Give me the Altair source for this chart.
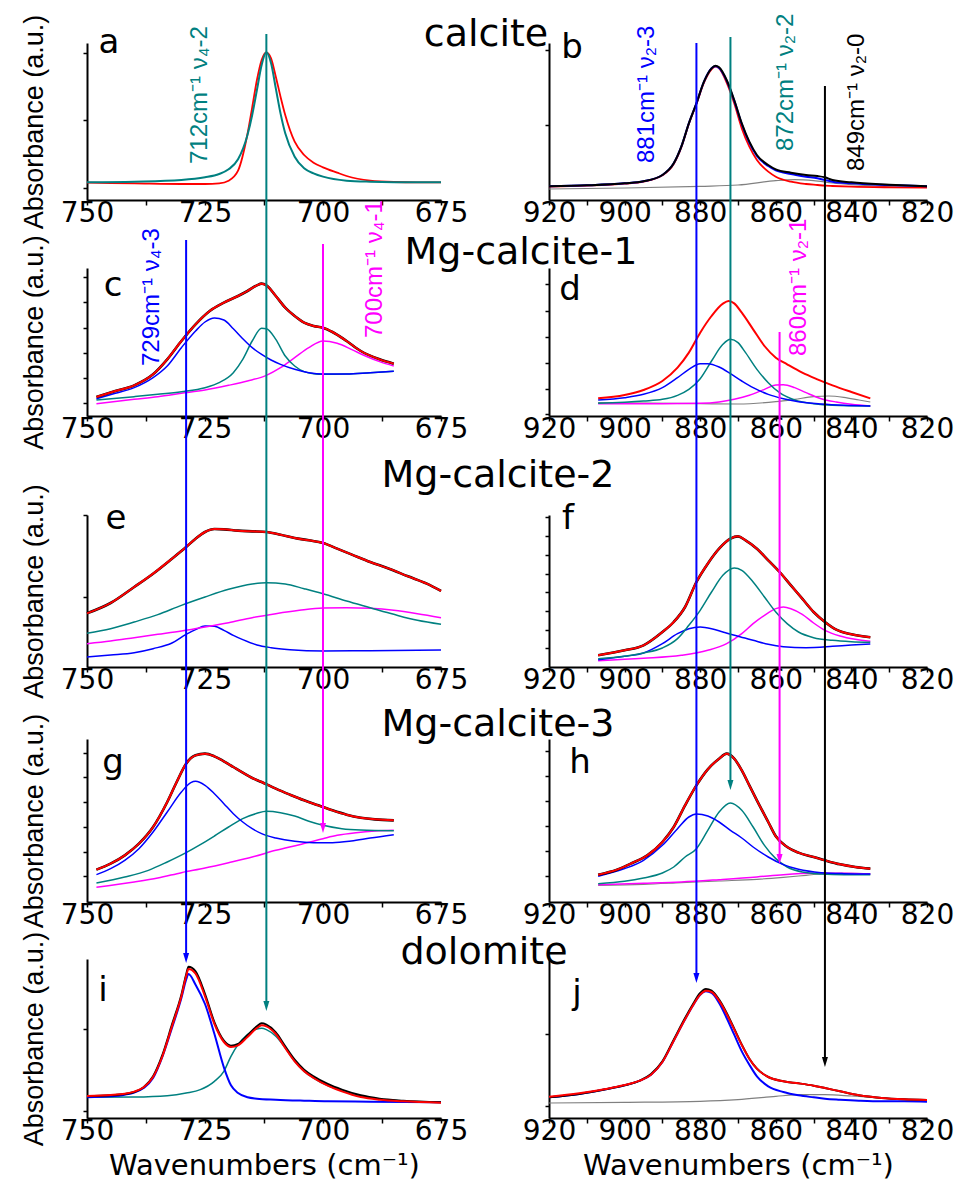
import altair as alt
import pandas as pd

# ---------------- data (wavenumber, absorbance a.u.) ----------------
# panel a (calcite, nu4)
a_teal_w = [750, 740, 730, 725, 722, 720, 718, 716, 715, 714, 713, 712, 711, 710, 709, 708, 706, 704, 702, 700, 695, 690, 680, 675]
a_teal_v = [53, 55, 60, 68, 78, 92, 122, 195, 255, 330, 405, 443, 410, 335, 260, 200, 130, 95, 80, 70, 58, 55, 53, 53]
a_red_w = [750, 740, 730, 725, 722, 720, 718, 716, 715, 714, 713, 712, 711, 710, 709, 708, 706, 704, 702, 700, 697, 695, 690, 685, 680, 675]
a_red_v = [52, 50, 48, 48, 50, 58, 88, 198, 278, 360, 420, 443, 425, 370, 310, 255, 175, 135, 112, 98, 82, 72, 58, 54, 53, 53]

# panel b (calcite, nu2)
b_w = [920, 910, 900, 895, 890, 887, 885, 883, 881, 879, 877, 876, 875, 873, 871, 869, 867, 865, 862, 860, 856, 852, 849, 847, 845, 840, 830, 820]
b_black_v = [41, 44, 50, 56, 75, 110, 160, 230, 290, 355, 395, 403, 398, 360, 300, 230, 175, 135, 105, 92, 82, 75, 72, 68, 60, 53, 46, 41]
b_blue_v = [41, 44, 50, 56, 75, 110, 160, 230, 290, 355, 395, 401, 396, 358, 298, 228, 172, 132, 102, 89, 78, 70, 65, 60, 55, 50, 45, 41]
b_red_v = [40, 43, 49, 55, 74, 108, 158, 228, 288, 352, 392, 400, 395, 352, 290, 215, 160, 120, 85, 70, 55, 48, 45, 43, 42, 40, 38, 37]
b_gray_w = [920, 900, 880, 870, 860, 855, 850, 845, 840, 830, 820]
b_gray_v = [33, 36, 41, 45, 58, 61, 58, 51, 46, 40, 38]

# panel c (Mg-calcite-1, nu4)
c_red_w = [748, 744, 740, 736, 733, 730, 727, 724, 721, 718, 716, 714, 713, 712, 710, 708, 706, 704, 702, 700, 698, 695, 692, 688, 685]
c_red_v = [57, 75, 92, 125, 170, 225, 275, 315, 340, 360, 375, 392, 397, 392, 360, 325, 300, 280, 270, 265, 252, 225, 195, 170, 157]
c_blue_w = [748, 744, 740, 736, 733, 730, 727, 725, 723, 721, 719, 717, 715, 713, 711, 709, 706, 703, 700, 695, 690, 685]
c_blue_v = [52, 68, 85, 115, 150, 205, 255, 282, 294, 288, 262, 232, 205, 185, 168, 155, 140, 130, 126, 126, 130, 134]
c_teal_w = [748, 740, 735, 730, 725, 722, 719, 717, 715, 713, 712, 710, 708, 706, 704, 702, 700, 695, 690, 685]
c_teal_v = [48, 58, 65, 73, 85, 100, 130, 170, 225, 263, 262, 230, 180, 150, 133, 127, 125, 126, 130, 134]
c_mag_w = [748, 740, 735, 730, 725, 720, 716, 712, 709, 706, 703, 700, 697, 694, 691, 688, 685]
c_mag_v = [37, 50, 58, 68, 78, 92, 105, 122, 145, 175, 205, 225, 218, 200, 180, 163, 150]

# panel d (Mg-calcite-1, nu2)
d_red_w = [907, 900, 895, 890, 886, 883, 880, 877, 874, 872.5, 871, 869, 866, 863, 860, 857, 853, 849, 845, 840, 835]
d_red_v = [53, 63, 78, 105, 145, 190, 250, 300, 337, 345, 338, 310, 260, 210, 175, 155, 130, 110, 92, 72, 53]
d_blue_w = [907, 900, 895, 890, 886, 883, 880, 878, 875, 872, 869, 866, 862, 858, 854, 848, 842, 835]
d_blue_v = [48, 55, 65, 85, 115, 140, 157, 157, 147, 127, 105, 85, 65, 52, 43, 36, 32, 30]
d_teal_w = [907, 895, 890, 886, 883, 880, 877, 874, 872, 870, 868, 865, 862, 859, 855, 850, 845, 835]
d_teal_v = [38, 45, 50, 62, 80, 112, 165, 215, 230, 220, 190, 140, 100, 70, 48, 37, 32, 30]
d_mag_w = [907, 890, 880, 875, 871, 867, 863, 860, 858, 855, 852, 848, 844, 840, 835]
d_mag_v = [37, 37, 38, 42, 50, 62, 80, 93, 94, 85, 70, 52, 42, 35, 30]
d_gray_w = [907, 880, 870, 860, 855, 850, 846, 842, 838, 835]
d_gray_v = [40, 37, 36, 43, 50, 58, 60, 56, 48, 42]

# panel e (Mg-calcite-2, nu4)
e_red_w = [750, 745, 740, 736, 732, 729, 727, 725, 723, 721, 718, 715, 712, 709, 706, 703, 700, 697, 694, 690, 686, 682, 678, 675]
e_red_v = [161, 192, 240, 280, 325, 360, 385, 405, 414, 413, 409, 407, 405, 397, 387, 380, 372, 355, 338, 315, 295, 272, 250, 228]
e_teal_w = [750, 745, 740, 735, 730, 725, 720, 715, 712, 708, 704, 700, 695, 690, 685, 680, 675]
e_teal_v = [101, 115, 135, 157, 185, 210, 233, 249, 253, 249, 235, 220, 198, 178, 158, 140, 128]
e_mag_w = [750, 745, 740, 735, 730, 725, 720, 715, 710, 705, 700, 695, 690, 685, 680, 675]
e_mag_v = [70, 78, 88, 98, 108, 120, 133, 148, 160, 170, 177, 178, 176, 170, 160, 148]
e_blue_w = [750, 745, 740, 736, 732, 729, 727, 725, 723, 721, 719, 717, 714, 711, 707, 700, 690, 675]
e_blue_v = [30, 36, 43, 55, 72, 98, 112, 123, 122, 110, 95, 82, 66, 58, 52, 48, 49, 51]

# panel f (Mg-calcite-2, nu2)
f_red_w = [907, 900, 895, 890, 887, 884, 881, 878, 875, 872, 870, 868, 865, 862, 859, 856, 853, 850, 847, 844, 840, 835]
f_red_v = [35, 50, 65, 105, 135, 180, 255, 310, 355, 385, 392, 380, 355, 320, 285, 245, 205, 165, 135, 112, 98, 89]
f_teal_w = [907, 900, 895, 890, 886, 883, 880, 877, 874, 871, 869, 866, 863, 860, 857, 854, 850, 845, 840, 835]
f_teal_v = [25, 32, 42, 57, 85, 125, 170, 225, 275, 297, 290, 255, 210, 165, 130, 105, 88, 80, 76, 74]
f_blue_w = [907, 900, 895, 890, 886, 883, 880, 877, 874, 870, 866, 862, 858, 852, 845, 840, 835]
f_blue_v = [22, 32, 42, 70, 100, 115, 120, 115, 105, 92, 80, 68, 61, 58, 62, 66, 69]
f_mag_w = [907, 895, 885, 878, 873, 869, 866, 863, 860, 858, 856, 853, 850, 847, 843, 839, 835]
f_mag_v = [19, 26, 35, 50, 70, 100, 130, 155, 175, 180, 175, 158, 132, 110, 93, 83, 77]

# panel g (Mg-calcite-3, nu4)
g_red_w = [748, 745, 742, 739, 736, 733, 731, 729, 727, 725, 723, 721, 719, 717, 715, 713, 710, 707, 704, 701, 698, 695, 692, 689, 685]
g_red_v = [97, 115, 140, 175, 225, 300, 360, 415, 440, 445, 437, 422, 405, 388, 372, 360, 340, 322, 305, 290, 275, 262, 253, 248, 245]
g_blue_w = [748, 745, 742, 739, 736, 733, 730, 728, 727, 725, 723, 721, 719, 717, 715, 713, 710, 706, 702, 698, 694, 690, 685]
g_blue_v = [82, 100, 125, 160, 210, 270, 330, 358, 362, 350, 325, 295, 265, 240, 220, 205, 192, 182, 178, 178, 183, 192, 202]
g_teal_w = [748, 742, 737, 733, 729, 726, 723, 720, 717, 714, 712, 709, 706, 703, 700, 696, 692, 685]
g_teal_v = [57, 75, 95, 120, 148, 172, 198, 225, 250, 266, 272, 268, 258, 242, 230, 220, 216, 214]
g_mag_w = [748, 740, 735, 730, 725, 720, 715, 710, 705, 700, 697, 693, 689, 685]
g_mag_v = [44, 60, 72, 88, 102, 118, 135, 155, 172, 190, 200, 208, 213, 215]

# panel h (Mg-calcite-3, nu2)
h_red_w = [907, 902, 898, 894, 890, 887, 884, 881, 878, 875, 873, 871, 869, 867, 865, 862, 860, 857, 854, 850, 847, 843, 839, 835]
h_red_v = [82, 97, 117, 140, 180, 225, 290, 350, 398, 430, 445, 430, 395, 350, 305, 240, 197, 165, 148, 135, 125, 113, 105, 100]
h_blue_w = [907, 900, 895, 890, 886, 883, 881, 878, 875, 872, 869, 866, 862, 858, 854, 848, 842, 835]
h_blue_v = [77, 100, 125, 170, 220, 255, 264, 258, 240, 215, 192, 165, 135, 112, 98, 88, 85, 84]
h_teal_w = [907, 900, 895, 890, 887, 884, 881, 878, 875, 872, 869, 866, 863, 860, 857, 853, 848, 842, 835]
h_teal_v = [55, 62, 72, 87, 105, 135, 160, 215, 270, 297, 275, 225, 170, 130, 105, 90, 84, 82, 82]
h_mag_w = [907, 895, 885, 875, 865, 858, 850, 842, 835]
h_mag_v = [52, 56, 60, 67, 75, 82, 86, 86, 84]
h_gray_w = [907, 895, 885, 875, 865, 858, 852, 846, 840, 835]
h_gray_v = [50, 53, 58, 63, 68, 74, 80, 86, 86, 85]

# panel i (dolomite, nu4)
i_w = [750, 745, 742, 740, 738, 736, 734, 732, 730, 729, 728.5, 727, 725, 723, 721, 719.5, 718, 716, 714, 713, 712, 710, 708, 706, 704, 702, 699, 696, 692, 688, 683, 675]
i_black_v = [65, 68, 72, 78, 92, 125, 190, 280, 370, 430, 454, 440, 372, 287, 232, 217, 222, 248, 275, 284, 280, 257, 215, 175, 145, 125, 102, 85, 68, 58, 52, 47]
i_red_v = [66, 69, 73, 79, 92, 123, 186, 275, 365, 425, 447, 433, 365, 282, 228, 213, 218, 243, 270, 278, 275, 252, 210, 170, 140, 120, 97, 80, 63, 55, 50, 46]
i_blue_w = [750, 745, 742, 740, 738, 736, 734, 732, 730, 729, 728.5, 727, 725, 723, 721, 719.5, 718, 716, 714, 710, 704, 699, 690, 675]
i_blue_v = [62, 65, 70, 76, 90, 120, 185, 270, 360, 415, 432, 400, 342, 252, 152, 98, 75, 62, 58, 55, 52, 50, 49, 47]
i_teal_w = [750, 740, 733, 729, 726, 723, 721, 719.5, 718, 716, 714, 713, 712, 710, 708, 706, 704, 702, 699, 696, 692, 688, 683, 675]
i_teal_v = [62, 63, 67, 75, 85, 110, 140, 185, 220, 250, 267, 269, 265, 245, 210, 170, 140, 120, 97, 82, 66, 57, 51, 47]

# panel j (dolomite, nu2)
j_w = [920, 912, 905, 900, 896, 893, 890, 887, 884, 882, 880, 878.5, 877, 875, 873, 871, 869, 867, 865, 862, 858, 854, 850, 847, 843, 838, 832, 826, 820]
j_black_v = [62, 72, 86, 98, 112, 132, 170, 235, 300, 340, 375, 387, 382, 355, 315, 268, 220, 178, 148, 123, 110, 104, 97, 90, 80, 68, 60, 56, 54]
j_red_v = [64, 74, 87, 99, 112, 130, 168, 232, 296, 336, 370, 382, 378, 352, 312, 266, 219, 178, 148, 123, 110, 104, 97, 90, 80, 68, 60, 56, 54]
j_blue_v = [62, 72, 86, 98, 112, 130, 168, 232, 296, 336, 370, 380, 375, 345, 300, 250, 200, 160, 125, 95, 78, 68, 62, 58, 55, 52, 50, 50, 49]
j_gray_w = [920, 900, 880, 870, 860, 853, 847, 840, 830, 820]
j_gray_v = [45, 47, 50, 55, 65, 70, 70, 66, 58, 52]

# y tick positions (no labels)
yticks = {
    "a": [36, 240, 441], "b": [225, 450],
    "c": [39, 114, 190, 265, 342, 417], "d": [5, 80, 158, 237, 315, 395],
    "e": [210, 455], "f": [57, 112, 167, 224, 280, 337, 392, 449],
    "g": [77, 150, 225, 300, 374, 447], "h": [77, 152, 227, 302, 377, 452],
    "i": [22, 267], "j": [37, 252],
}
left_ticks = [675, 687.5, 700, 712.5, 725, 737.5, 750]
right_ticks = [820, 830, 840, 850, 860, 870, 880, 890, 900, 910, 920]

# ---------------- styling / layout ----------------
RED, BLACK, BLUE, TEAL, MAG, GRAY = "#ff0000", "#000000", "#0000ff", "#008080", "#ff00ff", "#808080"
LEFT_W, RIGHT_W = 354, 378
ROW_H = [157, 148, 152, 163, 159]
GAPS = [68, 99, 72, 57]
WIDE = "DejaVu Sans"
NARROW = "Liberation Sans Narrow, Arial Narrow, Liberation Sans, sans-serif"
ARROW = "M-0.6,-1L0.6,-1L0,1Z"
LETTER = 34
TITLE = 38


def xenc(side, bottom):
    if side == "L":
        scale = alt.Scale(domain=[675, 750], reverse=True, nice=False, zero=False)
        vals, expr = left_ticks, "datum.value % 25 === 0 ? datum.label : ''"
    else:
        scale = alt.Scale(domain=[820, 920], reverse=True, nice=False, zero=False)
        vals, expr = right_ticks, "datum.value % 20 === 0 ? datum.label : ''"
    ax = dict(values=vals, labelExpr=expr, labelOverlap=False, labelFlush=False,
              tickSize=5, labelPadding=-6, format="d")
    if bottom:
        ax["title"] = "Wavenumbers (cm⁻¹)"
    else:
        ax["title"] = None
    return alt.X("w:Q", scale=scale, axis=alt.Axis(**ax))


def yenc(key, side, h):
    ax = dict(values=yticks[key], labels=False, tickSize=4)
    ax["title"] = "Absorbance (a.u.)" if side == "L" else None
    return alt.Y("v:Q", scale=alt.Scale(domain=[0, h * 3], nice=False, zero=False), axis=alt.Axis(**ax))


def txt(s, px, py, size, color=BLACK, font=WIDE, angle=0, align="center", baseline="alphabetic"):
    return alt.Chart(alt.Data(values=[{"k": 0}])).mark_text(
        text=s, fontSize=size, font=font, color=color, angle=angle, align=align, baseline=baseline
    ).encode(x=alt.value(px), y=alt.value(py))


def vlabel(s, px, py, color):
    return txt(s, px, py, 24, color=color, font=NARROW, angle=270, align="left", baseline="middle")


def panel(key, side, row, series, extra=(), bottom=False):
    h = ROW_H[row]
    x = xenc(side, bottom)
    y = yenc(key, side, h)
    layers = []
    for w, v, color, sw in series:
        df = pd.DataFrame({"w": w, "v": v})
        layers.append(alt.Chart(df).mark_line(color=color, strokeWidth=sw, interpolate="monotone").encode(x=x, y=y))
    for e in extra:
        layers.append(e(x) if callable(e) else e)
    return alt.layer(*layers).properties(width=LEFT_W if side == "L" else RIGHT_W, height=h)


def arrow_line(wn, color, top_rel, tip_rel):
    def make(x):
        df = pd.DataFrame({"w": [wn]})
        rule = alt.Chart(df).mark_rule(color=color, strokeWidth=2).encode(
            x=x, y=alt.value(top_rel), y2=alt.value(tip_rel - 5))
        head = alt.Chart(df).mark_point(shape=ARROW, filled=True, size=100, color=color, opacity=1, strokeWidth=0).encode(
            x=x, y=alt.value(tip_rel - 5))
        return alt.layer(rule, head)
    return make


def spacer(width, height):
    return alt.Chart(alt.Data(values=[{"k": 0}])).mark_point(opacity=0).encode(
        x=alt.value(0), y=alt.value(0)).properties(width=width, height=height)


R5 = 958  # absolute top of last row

pa = panel("a", "L", 0, [(a_red_w, a_red_v, RED, 1.8), (a_teal_w, a_teal_v, TEAL, 2)], extra=[
    txt("a", 22, 10, LETTER), txt("calcite", 399, 3, TITLE),
    vlabel("712cm⁻¹  ν₄-2", 113, 121, TEAL)])
pb = panel("b", "R", 0, [(b_gray_w, b_gray_v, GRAY, 1.2), (b_w, b_red_v, RED, 1.8), (b_w, b_blue_v, BLUE, 2), (b_w, b_black_v, BLACK, 2)], extra=[
    txt("b", 23, 15, LETTER),
    vlabel("881cm⁻¹  ν₂-3", 98, 120, BLUE), vlabel("872cm⁻¹  ν₂-2", 237, 108, TEAL),
    vlabel("849cm⁻¹  ν₂-0", 308, 128, BLACK)])
pc = panel("c", "L", 1, [(c_mag_w, c_mag_v, MAG, 1.5), (c_teal_w, c_teal_v, TEAL, 1.5), (c_blue_w, c_blue_v, BLUE, 1.5),
                         (c_red_w, c_red_v, BLACK, 2.6), (c_red_w, c_red_v, RED, 2)], extra=[
    txt("c", 26, 28, LETTER), txt("Mg-calcite-1", 434, -4, TITLE),
    vlabel("729cm⁻¹  ν₄-3", 65, 98, BLUE), vlabel("700cm⁻¹  ν₄-1", 288, 70, MAG)])
pd_ = panel("d", "R", 1, [(d_gray_w, d_gray_v, GRAY, 1.2), (d_mag_w, d_mag_v, MAG, 1.5), (d_teal_w, d_teal_v, TEAL, 1.5),
                          (d_blue_w, d_blue_v, BLUE, 1.5), (d_red_w, d_red_v, RED, 2)], extra=[
    txt("d", 21, 32, LETTER), vlabel("860cm⁻¹  ν₂-1", 250, 88, MAG)])
pe = panel("e", "L", 2, [(e_blue_w, e_blue_v, BLUE, 1.5), (e_mag_w, e_mag_v, MAG, 1.5), (e_teal_w, e_teal_v, TEAL, 1.5),
                         (e_red_w, e_red_v, BLACK, 2.6), (e_red_w, e_red_v, RED, 2)], extra=[
    txt("e", 29, 14, LETTER), txt("Mg-calcite-2", 411, -28, TITLE)])
pf = panel("f", "R", 2, [(f_mag_w, f_mag_v, MAG, 1.5), (f_blue_w, f_blue_v, BLUE, 1.5), (f_teal_w, f_teal_v, TEAL, 1.5),
                         (f_red_w, f_red_v, BLACK, 2.6), (f_red_w, f_red_v, RED, 2)], extra=[
    txt("f", 19, 14, LETTER)])
pg = panel("g", "L", 3, [(g_mag_w, g_mag_v, MAG, 1.5), (g_teal_w, g_teal_v, TEAL, 1.5), (g_blue_w, g_blue_v, BLUE, 1.5),
                         (g_red_w, g_red_v, BLACK, 2.6), (g_red_w, g_red_v, RED, 2)], extra=[
    txt("g", 26, 34, LETTER), txt("Mg-calcite-3", 411, -3, TITLE)])
ph = panel("h", "R", 3, [(h_gray_w, h_gray_v, GRAY, 1.2), (h_mag_w, h_mag_v, MAG, 1.5), (h_teal_w, h_teal_v, TEAL, 1.5),
                         (h_blue_w, h_blue_v, BLUE, 1.5), (h_red_w, h_red_v, BLACK, 2.6), (h_red_w, h_red_v, RED, 2)], extra=[
    txt("h", 31, 34, LETTER)])
pi = panel("i", "L", 4, [(i_teal_w, i_teal_v, TEAL, 1.5), (i_blue_w, i_blue_v, BLUE, 2), (i_w, i_black_v, BLACK, 2),
                         (i_w, i_red_v, RED, 2)], bottom=True, extra=[
    txt("i", 16, 42, LETTER), txt("dolomite", 397, 5, TITLE),
    arrow_line(712, TEAL, 33 - R5, 1010 - R5),
    arrow_line(729, BLUE, 239 - R5, 962 - R5),
    arrow_line(700, MAG, 243 - R5, 832 - R5)])
pj = panel("j", "R", 4, [(j_gray_w, j_gray_v, GRAY, 1.2), (j_w, j_blue_v, BLUE, 2), (j_w, j_black_v, BLACK, 2),
                         (j_w, j_red_v, RED, 2)], bottom=True, extra=[
    txt("j", 28, 45, LETTER),
    arrow_line(881, BLUE, 42 - R5, 982 - R5),
    arrow_line(872, TEAL, 36 - R5, 789 - R5),
    arrow_line(847, BLACK, 85 - R5, 1066 - R5),
    arrow_line(859, MAG, 331 - R5, 863 - R5)])

cells = [pa, pb,
         spacer(LEFT_W, GAPS[0]), spacer(RIGHT_W, GAPS[0]),
         pc, pd_,
         spacer(LEFT_W, GAPS[1]), spacer(RIGHT_W, GAPS[1]),
         pe, pf,
         spacer(LEFT_W, GAPS[2]), spacer(RIGHT_W, GAPS[2]),
         pg, ph,
         spacer(LEFT_W, GAPS[3]), spacer(RIGHT_W, GAPS[3]),
         pi, pj]

chart = alt.concat(*cells, columns=2).properties(
    spacing={"row": 0, "column": 108},
    bounds="flush",
    padding={"left": 20, "top": 6, "right": 5, "bottom": 0},
).configure_view(strokeWidth=0).configure_axis(
    grid=False, domainColor=BLACK, tickColor=BLACK, labelColor=BLACK, titleColor=BLACK,
    domainWidth=2, tickWidth=1.5,
    labelFont=WIDE, labelFontSize=28,
).configure_axisX(
    titleFont=WIDE, titleFontSize=29, titleFontWeight="normal", titlePadding=6,
).configure_axisY(
    titleFont=NARROW, titleFontSize=27, titleFontWeight="normal", titlePadding=34,
)

chart.save("out.html", embed_options={"renderer": "svg", "actions": False})
